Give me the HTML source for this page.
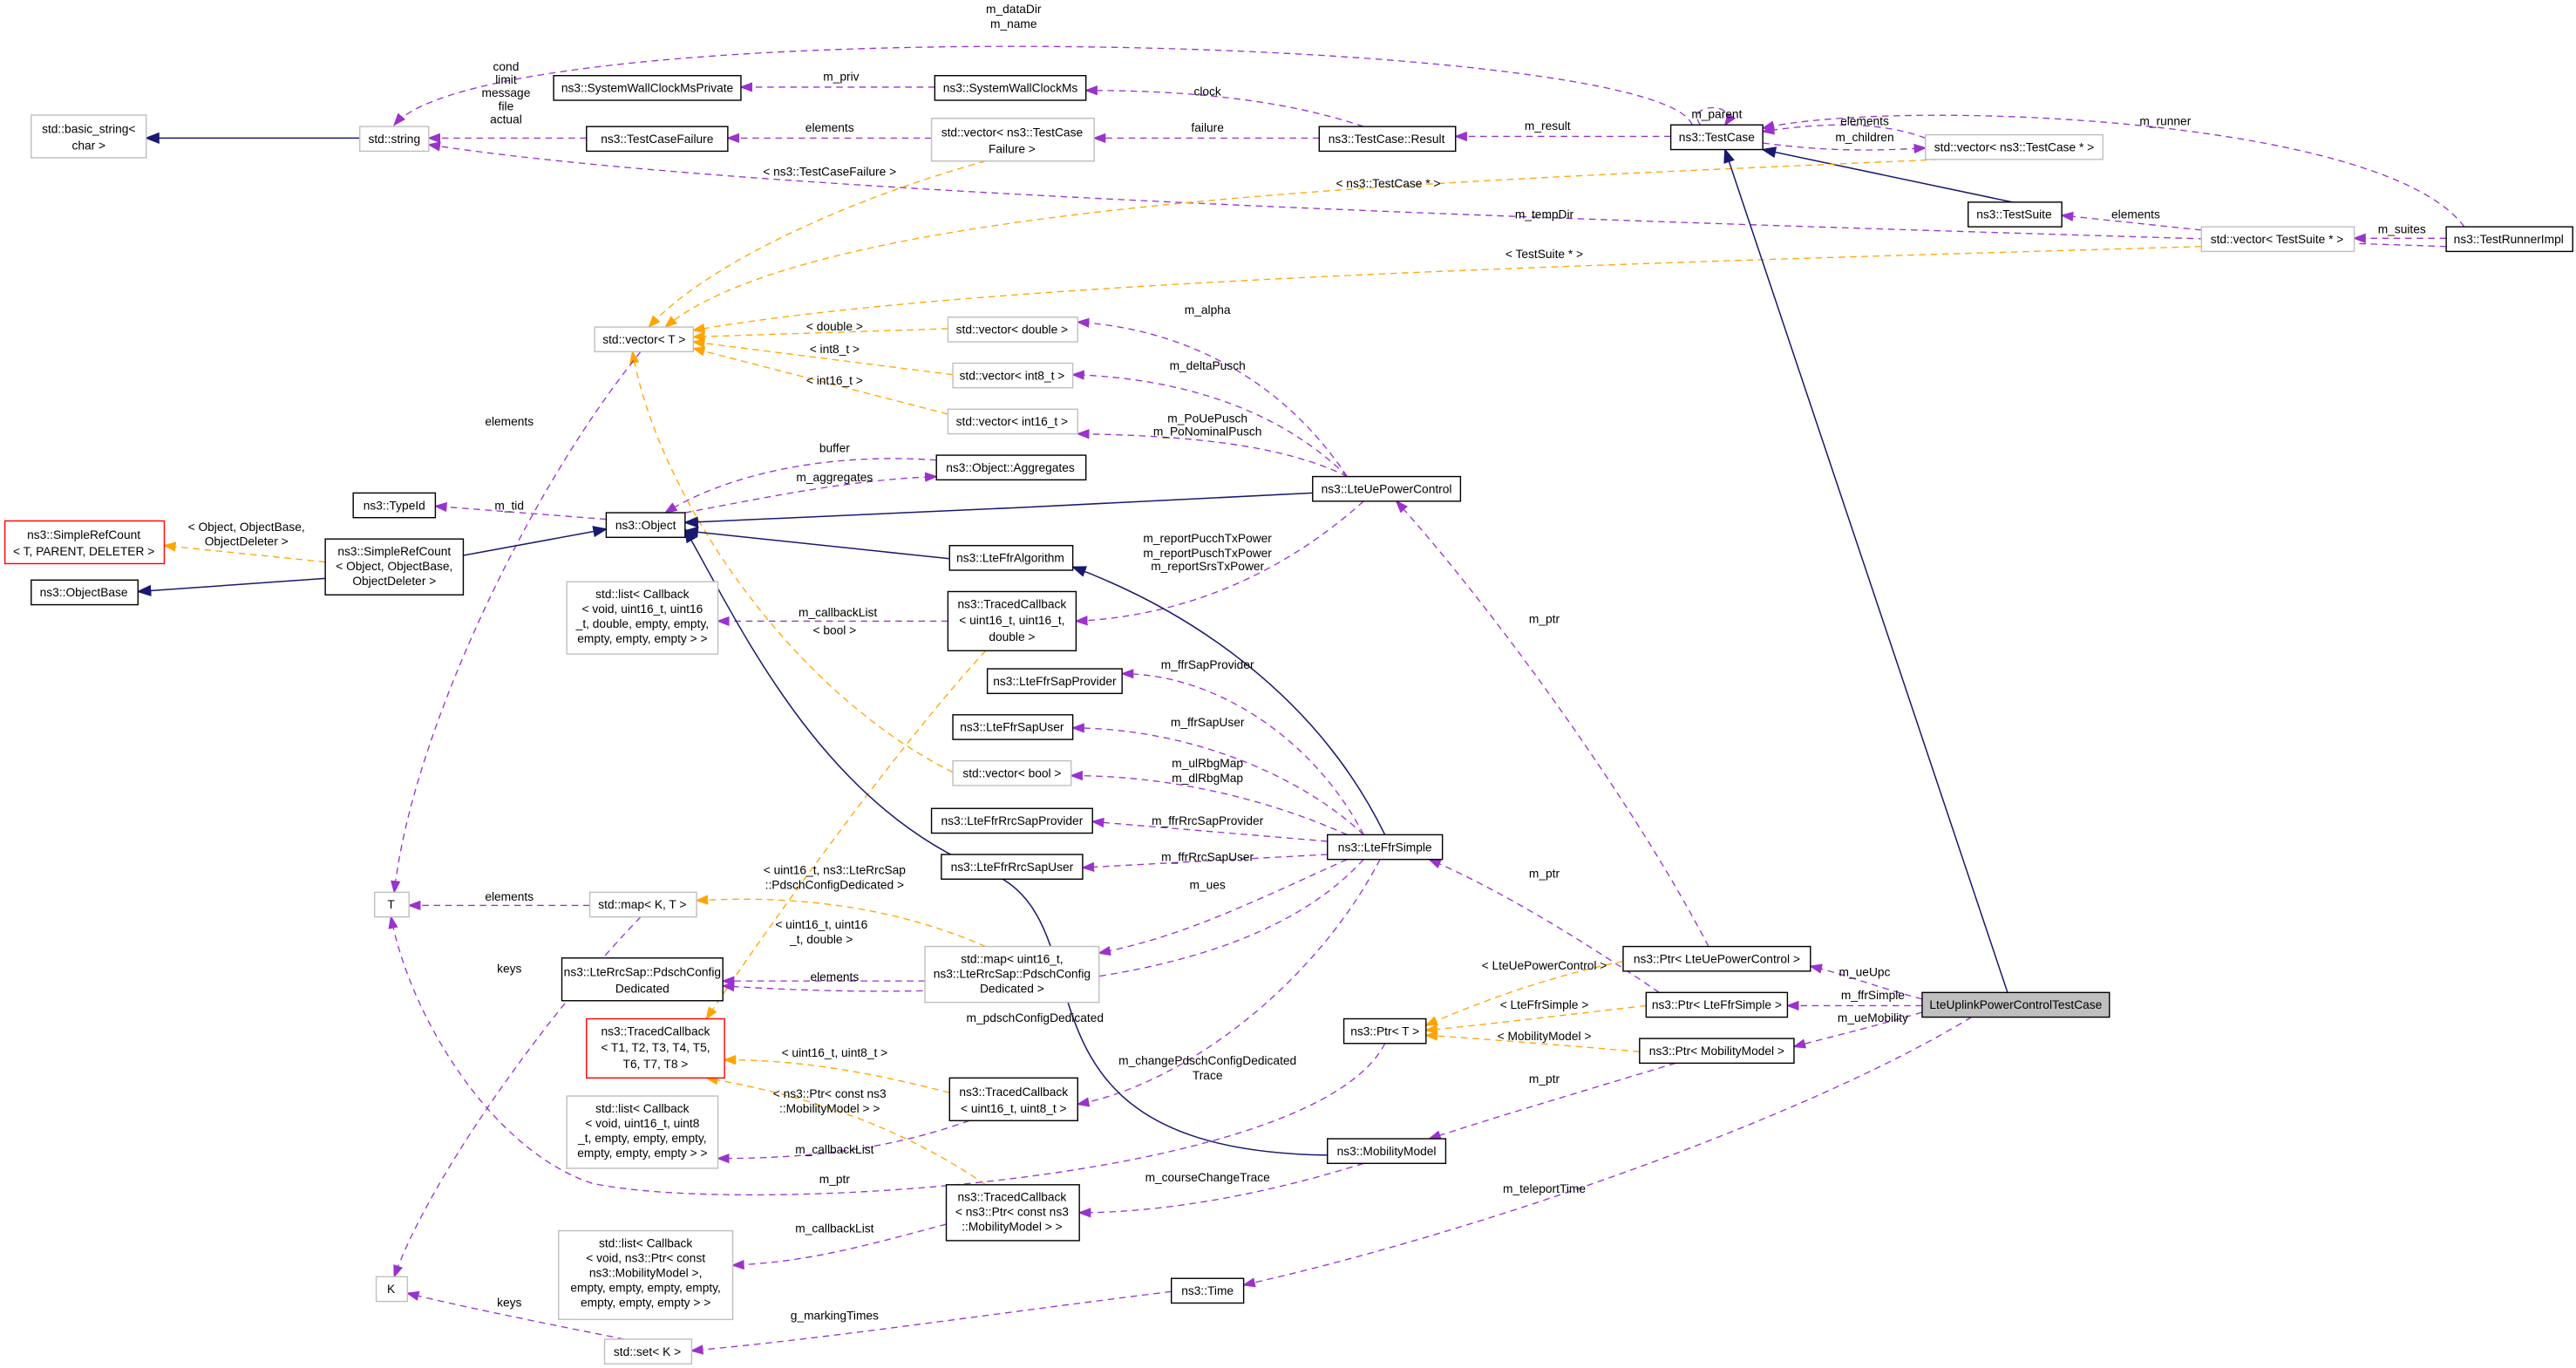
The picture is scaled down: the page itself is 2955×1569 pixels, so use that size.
<!DOCTYPE html>
<html><head><meta charset="utf-8"><style>
html,body{margin:0;padding:0;background:#fff;}
svg{display:block;}
text{font-family:"Liberation Sans",sans-serif;font-size:7.3px;fill:#000;}
.n{fill:#fff;stroke:#000;stroke-width:0.75;}
.g{fill:#fff;stroke:#bfbfbf;stroke-width:0.75;}
.r{fill:#fff;stroke:#ff0000;stroke-width:0.75;}
.p{fill:none;stroke:#9a32cd;stroke-width:0.7;stroke-dasharray:4,3;marker-end:url(#mp);}
.o{fill:none;stroke:#ffa500;stroke-width:0.7;stroke-dasharray:4,3;marker-end:url(#mo);}
.b{fill:none;stroke:#191970;stroke-width:0.8;marker-end:url(#mb);}
</style></head><body>
<svg width="2955" height="1569" viewBox="0 0 1568 832.5" xmlns="http://www.w3.org/2000/svg">
<defs>
<marker id="mp" markerWidth="8" markerHeight="6" refX="7" refY="3" orient="auto" markerUnits="userSpaceOnUse"><path d="M0,0L8,3L0,6z" fill="#9a32cd"/></marker>
<marker id="mo" markerWidth="8" markerHeight="6" refX="7" refY="3" orient="auto" markerUnits="userSpaceOnUse"><path d="M0,0L8,3L0,6z" fill="#ffa500"/></marker>
<marker id="mb" markerWidth="9" markerHeight="7" refX="8" refY="3.5" orient="auto" markerUnits="userSpaceOnUse"><path d="M0,0L9,3.5L0,7z" fill="#191970"/></marker>
</defs>
<path class="b" d="M219,84L89,84"/>
<path class="p" d="M357,84L261,84"/>
<path class="p" d="M1030,76C1010,20 300,5 240,76"/>
<path class="p" d="M569,53L451,53"/>
<path class="p" d="M830,77C780,60 720,55 661,55"/>
<path class="p" d="M803,84L666,84"/>
<path class="p" d="M567,84L443,84"/>
<path class="p" d="M1017,83L886,83"/>
<path class="p" d="M1035,76C1025,62 1060,62 1050,76"/>
<path class="p" d="M1172,84C1140,72 1100,76 1073,80"/>
<path class="p" d="M1073,87C1110,92 1140,92 1172,90"/>
<path class="b" d="M1225,123L1073,91"/>
<path class="p" d="M1500,138C1450,70 1150,60 1073,78"/>
<path class="p" d="M1340,140L1255,131"/>
<path class="p" d="M1489,145L1433,145"/>
<path class="p" d="M1489,150C1200,140 500,125 261,88"/>
<path class="o" d="M1180,97C900,110 500,120 405,199"/>
<path class="o" d="M1340,150C1000,160 600,170 422,201"/>
<path class="o" d="M600,98C520,120 430,160 395,199"/>
<path class="o" d="M577,200L422,205"/>
<path class="o" d="M580,228L422,208"/>
<path class="o" d="M577,252L422,212"/>
<path class="o" d="M580,470C480,420 400,300 385,214"/>
<path class="p" d="M390,214C320,300 250,450 240,543"/>
<path class="p" d="M820,290C780,230 720,200 656,196"/>
<path class="p" d="M820,290C780,250 720,230 653,228"/>
<path class="p" d="M820,290C780,270 720,265 656,264"/>
<path class="p" d="M417,312C480,300 520,292 570,290"/>
<path class="p" d="M570,280C500,275 440,290 405,312"/>
<path class="b" d="M799,300C700,305 500,315 417,318"/>
<path class="p" d="M369,316L265,308"/>
<path class="b" d="M282,338L369,322"/>
<path class="o" d="M198,342L100,332"/>
<path class="b" d="M198,352L84,360"/>
<path class="b" d="M578,340L417,323"/>
<path class="p" d="M577,378L437,378"/>
<path class="p" d="M830,305C780,350 720,375 655,378"/>
<path class="o" d="M600,396C550,450 470,560 430,620"/>
<path class="b" d="M843,508C800,420 720,370 653,345"/>
<path class="p" d="M830,508C800,450 740,410 683,410"/>
<path class="p" d="M830,508C790,470 720,443 653,443"/>
<path class="p" d="M820,508C780,490 720,472 652,472"/>
<path class="p" d="M808,512L665,500"/>
<path class="p" d="M808,520L659,528"/>
<path class="p" d="M820,523C760,550 720,570 669,580"/>
<path class="p" d="M830,523C760,600 600,610 440,600"/>
<path class="p" d="M840,523C800,600 720,660 656,672"/>
<path class="b" d="M808,703C600,700 680,560 600,530C500,490 450,380 417,322"/>
<path class="p" d="M359,551L249,551"/>
<path class="p" d="M390,558C330,620 260,720 240,777"/>
<path class="o" d="M600,576C540,550 480,545 424,548"/>
<path class="p" d="M563,597L440,597"/>
<path class="o" d="M578,665C520,650 480,645 441,645"/>
<path class="p" d="M590,682C540,700 490,705 437,705"/>
<path class="o" d="M600,721C540,680 480,665 430,656"/>
<path class="p" d="M576,745C520,760 490,768 446,770"/>
<path class="p" d="M830,708C760,730 700,738 657,738"/>
<path class="p" d="M843,635C800,720 450,740 360,720C300,700 250,620 238,558"/>
<path class="p" d="M1040,576C990,480 900,360 850,305"/>
<path class="p" d="M1010,604C960,570 910,540 870,523"/>
<path class="p" d="M1020,647C960,665 910,680 870,693"/>
<path class="o" d="M988,585C940,595 900,610 868,624"/>
<path class="o" d="M1002,612C950,618 900,624 868,627"/>
<path class="o" d="M998,640C950,636 900,632 868,630"/>
<path class="p" d="M1170,608C1140,600 1120,592 1102,588"/>
<path class="p" d="M1170,612L1088,612"/>
<path class="p" d="M1170,616C1140,625 1110,632 1092,637"/>
<path class="b" d="M1222,604L1050,91"/>
<path class="p" d="M1200,619C1100,680 900,750 757,782"/>
<path class="p" d="M713,786C600,800 500,815 421,822"/>
<path class="p" d="M380,815C330,805 280,795 248,787"/>
<g text-anchor="middle">
<text x="308" y="43">cond</text><text x="308" y="51">limit</text><text x="308" y="59">message</text><text x="308" y="67">file</text><text x="308" y="75">actual</text>
<text x="617" y="8">m_dataDir</text><text x="617" y="17">m_name</text>
<text x="512" y="49">m_priv</text><text x="735" y="58">clock</text><text x="735" y="80">failure</text>
<text x="505" y="80">elements</text><text x="942" y="79">m_result</text><text x="1045" y="72">m_parent</text>
<text x="1135" y="76">elements</text><text x="1135" y="86">m_children</text><text x="1318" y="76">m_runner</text>
<text x="1300" y="133">elements</text><text x="1462" y="142">m_suites</text><text x="940" y="133">m_tempDir</text>
<text x="845" y="114">&lt; ns3::TestCase * &gt;</text><text x="940" y="157">&lt; TestSuite * &gt;</text>
<text x="505" y="107">&lt; ns3::TestCaseFailure &gt;</text>
<text x="508" y="201">&lt; double &gt;</text><text x="508" y="215">&lt; int8_t &gt;</text><text x="508" y="234">&lt; int16_t &gt;</text>
<text x="508" y="386">&lt; bool &gt;</text><text x="310" y="259">elements</text>
<text x="735" y="191">m_alpha</text><text x="735" y="225">m_deltaPusch</text>
<text x="735" y="257">m_PoUePusch</text><text x="735" y="265">m_PoNominalPusch</text>
<text x="508" y="275">buffer</text><text x="508" y="293">m_aggregates</text><text x="310" y="310">m_tid</text>
<text x="150" y="323">&lt; Object, ObjectBase,</text><text x="150" y="332">ObjectDeleter &gt;</text>
<text x="510" y="375">m_callbackList</text>
<text x="735" y="330">m_reportPucchTxPower</text><text x="735" y="339">m_reportPuschTxPower</text><text x="735" y="347">m_reportSrsTxPower</text>
<text x="500" y="565">&lt; uint16_t, uint16</text><text x="500" y="574">_t, double &gt;</text>
<text x="735" y="407">m_ffrSapProvider</text><text x="735" y="442">m_ffrSapUser</text>
<text x="735" y="467">m_ulRbgMap</text><text x="735" y="476">m_dlRbgMap</text>
<text x="735" y="502">m_ffrRrcSapProvider</text><text x="735" y="524">m_ffrRrcSapUser</text>
<text x="735" y="541">m_ues</text><text x="630" y="622">m_pdschConfigDedicated</text>
<text x="735" y="648">m_changePdschConfigDedicated</text><text x="735" y="657">Trace</text>
<text x="310" y="548">elements</text><text x="310" y="592">keys</text>
<text x="508" y="532">&lt; uint16_t, ns3::LteRrcSap</text><text x="508" y="541">::PdschConfigDedicated &gt;</text>
<text x="508" y="597">elements</text><text x="508" y="643">&lt; uint16_t, uint8_t &gt;</text>
<text x="508" y="702">m_callbackList</text><text x="505" y="668">&lt; ns3::Ptr&lt; const ns3</text><text x="505" y="677">::MobilityModel &gt; &gt;</text>
<text x="508" y="750">m_callbackList</text><text x="735" y="719">m_courseChangeTrace</text>
<text x="508" y="720">m_ptr</text><text x="940" y="379">m_ptr</text><text x="940" y="534">m_ptr</text><text x="940" y="659">m_ptr</text>
<text x="940" y="590">&lt; LteUePowerControl &gt;</text><text x="940" y="614">&lt; LteFfrSimple &gt;</text><text x="940" y="633">&lt; MobilityModel &gt;</text>
<text x="1135" y="594">m_ueUpc</text><text x="1140" y="608">m_ffrSimple</text><text x="1140" y="622">m_ueMobility</text>
<text x="940" y="726">m_teleportTime</text><text x="508" y="803">g_markingTimes</text><text x="310" y="795">keys</text>
</g>
<g text-anchor="middle">
<rect class="g" x="19" y="70" width="70" height="26"/><text x="54" y="81">std::basic_string&lt;</text><text x="54" y="91">char &gt;</text>
<rect class="g" x="219" y="77" width="42" height="15"/><text x="240" y="87">std::string</text>
<rect class="n" x="337" y="46" width="114" height="15"/><text x="394" y="56">ns3::SystemWallClockMsPrivate</text>
<rect class="n" x="569" y="46" width="92" height="15"/><text x="615" y="56">ns3::SystemWallClockMs</text>
<rect class="n" x="357" y="77" width="86" height="15"/><text x="400" y="87">ns3::TestCaseFailure</text>
<rect class="g" x="567" y="72" width="99" height="26"/><text x="616" y="83">std::vector&lt; ns3::TestCase</text><text x="616" y="93">Failure &gt;</text>
<rect class="n" x="803" y="77" width="83" height="15"/><text x="844" y="87">ns3::TestCase::Result</text>
<rect class="n" x="1017" y="76" width="56" height="15"/><text x="1045" y="86">ns3::TestCase</text>
<rect class="g" x="1172" y="82" width="108" height="15"/><text x="1226" y="92">std::vector&lt; ns3::TestCase * &gt;</text>
<rect class="n" x="1198" y="123" width="57" height="15"/><text x="1226" y="133">ns3::TestSuite</text>
<rect class="g" x="1340" y="138" width="93" height="15"/><text x="1386" y="148">std::vector&lt; TestSuite * &gt;</text>
<rect class="n" x="1489" y="138" width="77" height="15"/><text x="1527" y="148">ns3::TestRunnerImpl</text>
<rect class="g" x="362" y="199" width="60" height="15"/><text x="392" y="209">std::vector&lt; T &gt;</text>
<rect class="g" x="577" y="193" width="79" height="15"/><text x="616" y="203">std::vector&lt; double &gt;</text>
<rect class="g" x="580" y="221" width="73" height="15"/><text x="616" y="231">std::vector&lt; int8_t &gt;</text>
<rect class="g" x="577" y="249" width="79" height="15"/><text x="616" y="259">std::vector&lt; int16_t &gt;</text>
<rect class="n" x="570" y="277" width="91" height="15"/><text x="615" y="287">ns3::Object::Aggregates</text>
<rect class="n" x="215" y="300" width="50" height="15"/><text x="240" y="310">ns3::TypeId</text>
<rect class="n" x="369" y="312" width="48" height="15"/><text x="393" y="322">ns3::Object</text>
<rect class="n" x="799" y="290" width="90" height="15"/><text x="844" y="300">ns3::LteUePowerControl</text>
<rect class="r" x="3" y="317" width="97" height="26"/><text x="51" y="328">ns3::SimpleRefCount</text><text x="51" y="338">&lt; T, PARENT, DELETER &gt;</text>
<rect class="n" x="198" y="328" width="84" height="34"/><text x="240" y="338">ns3::SimpleRefCount</text><text x="240" y="347">&lt; Object, ObjectBase,</text><text x="240" y="356">ObjectDeleter &gt;</text>
<rect class="n" x="19" y="353" width="65" height="15"/><text x="51" y="363">ns3::ObjectBase</text>
<rect class="n" x="578" y="332" width="75" height="15"/><text x="615" y="342">ns3::LteFfrAlgorithm</text>
<rect class="g" x="345" y="354" width="92" height="44"/><text x="391" y="364">std::list&lt; Callback</text><text x="391" y="373">&lt; void, uint16_t, uint16</text><text x="391" y="382">_t, double, empty, empty,</text><text x="391" y="391">empty, empty, empty &gt; &gt;</text>
<rect class="n" x="577" y="360" width="78" height="36"/><text x="616" y="370">ns3::TracedCallback</text><text x="616" y="380">&lt; uint16_t, uint16_t,</text><text x="616" y="390">double &gt;</text>
<rect class="n" x="601" y="407" width="82" height="15"/><text x="642" y="417">ns3::LteFfrSapProvider</text>
<rect class="n" x="580" y="435" width="73" height="15"/><text x="616" y="445">ns3::LteFfrSapUser</text>
<rect class="g" x="580" y="463" width="72" height="15"/><text x="616" y="473">std::vector&lt; bool &gt;</text>
<rect class="n" x="567" y="492" width="98" height="15"/><text x="616" y="502">ns3::LteFfrRrcSapProvider</text>
<rect class="n" x="808" y="508" width="70" height="15"/><text x="843" y="518">ns3::LteFfrSimple</text>
<rect class="n" x="573" y="520" width="86" height="15"/><text x="616" y="530">ns3::LteFfrRrcSapUser</text>
<rect class="g" x="228" y="543" width="21" height="15"/><text x="238" y="553">T</text>
<rect class="g" x="359" y="543" width="65" height="15"/><text x="391" y="553">std::map&lt; K, T &gt;</text>
<rect class="g" x="563" y="576" width="106" height="34"/><text x="616" y="586">std::map&lt; uint16_t,</text><text x="616" y="595">ns3::LteRrcSap::PdschConfig</text><text x="616" y="604">Dedicated &gt;</text>
<rect class="n" x="342" y="583" width="98" height="26"/><text x="391" y="594">ns3::LteRrcSap::PdschConfig</text><text x="391" y="604">Dedicated</text>
<rect class="n" x="988" y="576" width="114" height="15"/><text x="1045" y="586">ns3::Ptr&lt; LteUePowerControl &gt;</text>
<rect x="1170" y="604" width="114" height="15" fill="#bfbfbf" stroke="#000" stroke-width="0.75"/><text x="1227" y="614">LteUplinkPowerControlTestCase</text>
<rect class="n" x="1002" y="604" width="86" height="15"/><text x="1045" y="614">ns3::Ptr&lt; LteFfrSimple &gt;</text>
<rect class="n" x="818" y="620" width="50" height="15"/><text x="843" y="630">ns3::Ptr&lt; T &gt;</text>
<rect class="r" x="357" y="620" width="84" height="36"/><text x="399" y="630">ns3::TracedCallback</text><text x="399" y="640">&lt; T1, T2, T3, T4, T5,</text><text x="399" y="650">T6, T7, T8 &gt;</text>
<rect class="n" x="998" y="632" width="94" height="15"/><text x="1045" y="642">ns3::Ptr&lt; MobilityModel &gt;</text>
<rect class="n" x="578" y="656" width="78" height="26"/><text x="617" y="667">ns3::TracedCallback</text><text x="617" y="677">&lt; uint16_t, uint8_t &gt;</text>
<rect class="g" x="345" y="667" width="92" height="44"/><text x="391" y="677">std::list&lt; Callback</text><text x="391" y="686">&lt; void, uint16_t, uint8</text><text x="391" y="695">_t, empty, empty, empty,</text><text x="391" y="704">empty, empty, empty &gt; &gt;</text>
<rect class="n" x="808" y="693" width="72" height="15"/><text x="844" y="703">ns3::MobilityModel</text>
<rect class="n" x="576" y="721" width="81" height="34"/><text x="616" y="731">ns3::TracedCallback</text><text x="616" y="740">&lt; ns3::Ptr&lt; const ns3</text><text x="616" y="749">::MobilityModel &gt; &gt;</text>
<rect class="g" x="340" y="749" width="106" height="54"/><text x="393" y="759">std::list&lt; Callback</text><text x="393" y="768">&lt; void, ns3::Ptr&lt; const</text><text x="393" y="777">ns3::MobilityModel &gt;,</text><text x="393" y="786">empty, empty, empty, empty,</text><text x="393" y="795">empty, empty, empty &gt; &gt;</text>
<rect class="g" x="229" y="777" width="19" height="15"/><text x="238" y="787">K</text>
<rect class="n" x="713" y="778" width="44" height="15"/><text x="735" y="788">ns3::Time</text>
<rect class="g" x="368" y="815" width="53" height="15"/><text x="394" y="825">std::set&lt; K &gt;</text>
</g>
</svg>
</body></html>
